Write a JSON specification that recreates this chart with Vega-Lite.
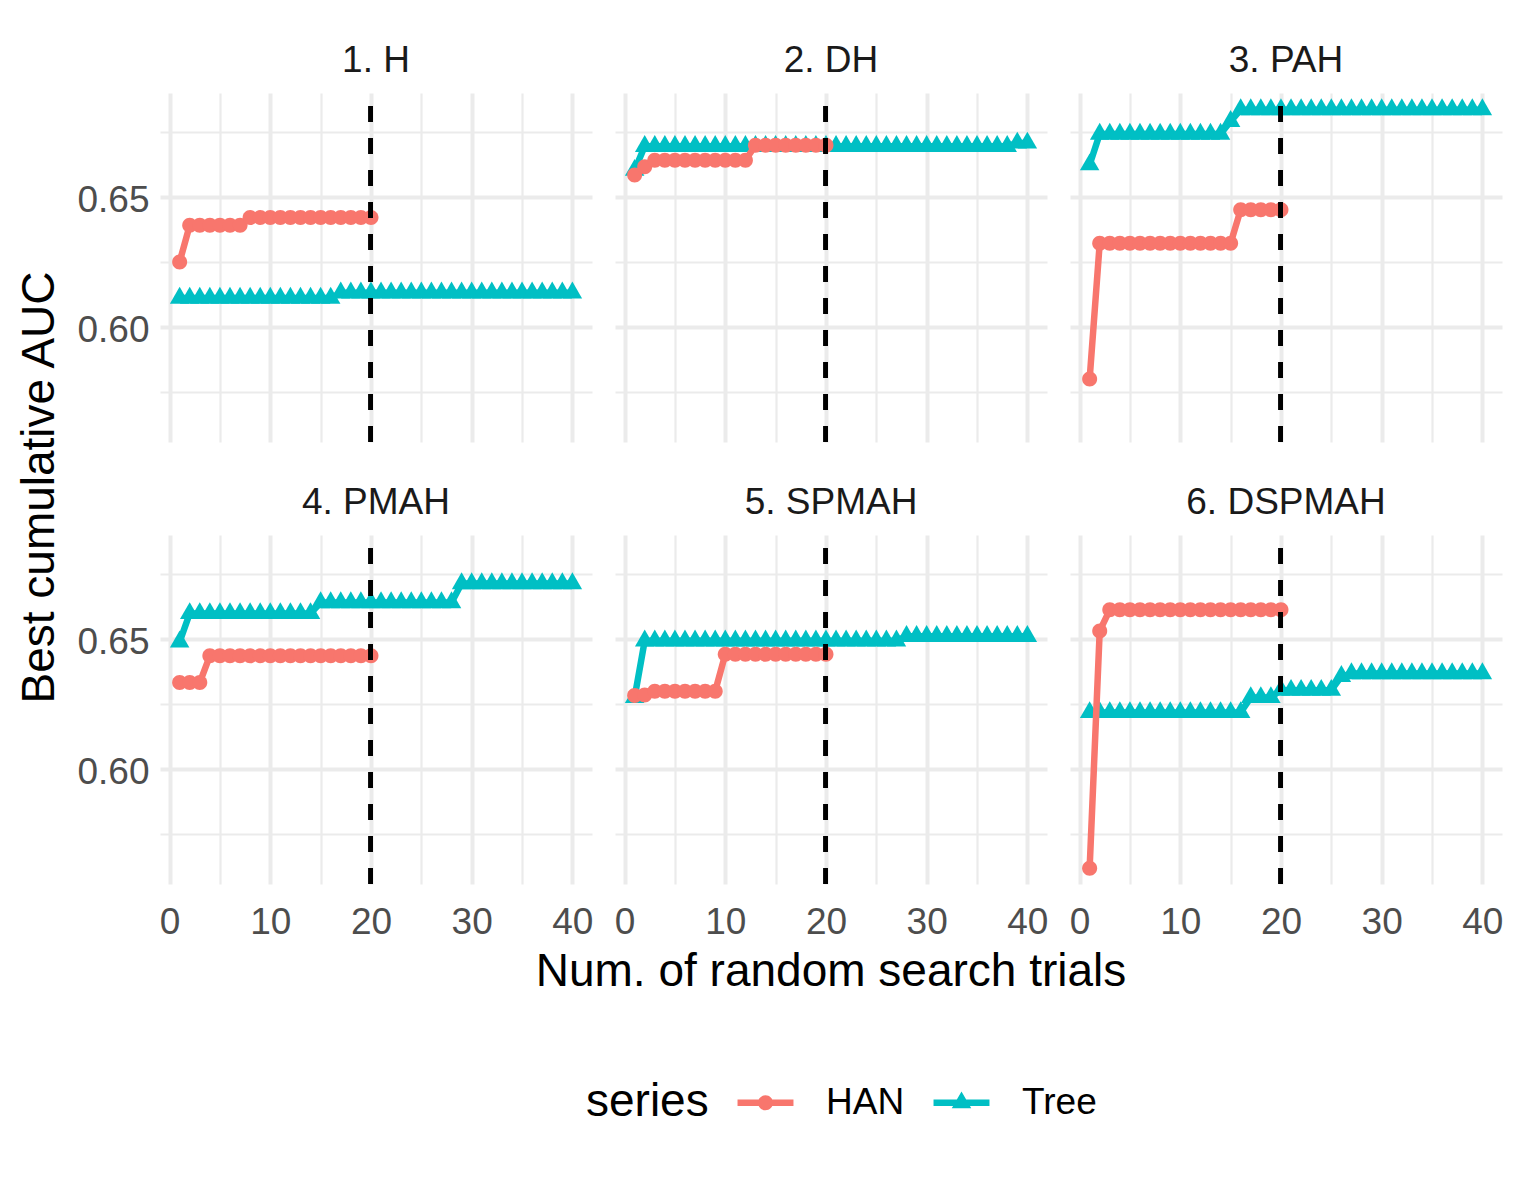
{
  "$schema": "https://vega.github.io/schema/vega-lite/v6.json",
  "padding": {"left": 16, "top": 42, "right": 5, "bottom": 5},
  "background": "white",
  "config": {
    "font": "Liberation Sans",
    "view": {"stroke": null},
    "axis": {"domain": false, "ticks": false, "tickSize": 0, "gridColor": "#EBEBEB", "labelFont": "Liberation Sans", "labelFontSize": 37, "labelColor": "#4D4D4D", "labelOverlap": false, "labelFlush": false},
    "header": {"labelFont": "Liberation Sans", "labelFontSize": 37, "labelColor": "#1A1A1A", "labelBaseline": "alphabetic", "labelPadding": -18},
    "legend": {"direction": "horizontal", "titleOrient": "left", "titleFont": "Liberation Sans", "titleFontSize": 46, "titleFontWeight": "normal", "titleColor": "black", "titlePadding": 38, "labelFont": "Liberation Sans", "labelFontSize": 37, "labelColor": "black", "labelOffset": 42, "columnPadding": 28, "symbolSize": 380, "symbolStrokeWidth": 0, "symbolOpacity": 1}
  },
  "title": {"text": "Best cumulative AUC", "orient": "left", "anchor": "middle", "font": "Liberation Sans", "fontSize": 46, "fontWeight": "normal", "color": "black", "offset": 13, "dx": 96},
  "datasets": {
    "auc": [
      {"panel":"1. H","series":"Tree","trial":1,"auc":0.6112},{"panel":"1. H","series":"Tree","trial":2,"auc":0.6112},{"panel":"1. H","series":"Tree","trial":3,"auc":0.6112},{"panel":"1. H","series":"Tree","trial":4,"auc":0.6112},{"panel":"1. H","series":"Tree","trial":5,"auc":0.6112},{"panel":"1. H","series":"Tree","trial":6,"auc":0.6112},{"panel":"1. H","series":"Tree","trial":7,"auc":0.6112},{"panel":"1. H","series":"Tree","trial":8,"auc":0.6112},{"panel":"1. H","series":"Tree","trial":9,"auc":0.6112},{"panel":"1. H","series":"Tree","trial":10,"auc":0.6112},
      {"panel":"1. H","series":"Tree","trial":11,"auc":0.6112},{"panel":"1. H","series":"Tree","trial":12,"auc":0.6112},{"panel":"1. H","series":"Tree","trial":13,"auc":0.6112},{"panel":"1. H","series":"Tree","trial":14,"auc":0.6112},{"panel":"1. H","series":"Tree","trial":15,"auc":0.6112},{"panel":"1. H","series":"Tree","trial":16,"auc":0.6112},{"panel":"1. H","series":"Tree","trial":17,"auc":0.6132},{"panel":"1. H","series":"Tree","trial":18,"auc":0.6132},{"panel":"1. H","series":"Tree","trial":19,"auc":0.6132},{"panel":"1. H","series":"Tree","trial":20,"auc":0.6132},
      {"panel":"1. H","series":"Tree","trial":21,"auc":0.6132},{"panel":"1. H","series":"Tree","trial":22,"auc":0.6132},{"panel":"1. H","series":"Tree","trial":23,"auc":0.6132},{"panel":"1. H","series":"Tree","trial":24,"auc":0.6132},{"panel":"1. H","series":"Tree","trial":25,"auc":0.6132},{"panel":"1. H","series":"Tree","trial":26,"auc":0.6132},{"panel":"1. H","series":"Tree","trial":27,"auc":0.6132},{"panel":"1. H","series":"Tree","trial":28,"auc":0.6132},{"panel":"1. H","series":"Tree","trial":29,"auc":0.6132},{"panel":"1. H","series":"Tree","trial":30,"auc":0.6132},
      {"panel":"1. H","series":"Tree","trial":31,"auc":0.6132},{"panel":"1. H","series":"Tree","trial":32,"auc":0.6132},{"panel":"1. H","series":"Tree","trial":33,"auc":0.6132},{"panel":"1. H","series":"Tree","trial":34,"auc":0.6132},{"panel":"1. H","series":"Tree","trial":35,"auc":0.6132},{"panel":"1. H","series":"Tree","trial":36,"auc":0.6132},{"panel":"1. H","series":"Tree","trial":37,"auc":0.6132},{"panel":"1. H","series":"Tree","trial":38,"auc":0.6132},{"panel":"1. H","series":"Tree","trial":39,"auc":0.6132},{"panel":"1. H","series":"Tree","trial":40,"auc":0.6132},
      {"panel":"1. H","series":"HAN","trial":1,"auc":0.6251},{"panel":"1. H","series":"HAN","trial":2,"auc":0.6392},{"panel":"1. H","series":"HAN","trial":3,"auc":0.6392},{"panel":"1. H","series":"HAN","trial":4,"auc":0.6392},{"panel":"1. H","series":"HAN","trial":5,"auc":0.6392},{"panel":"1. H","series":"HAN","trial":6,"auc":0.6392},{"panel":"1. H","series":"HAN","trial":7,"auc":0.6392},{"panel":"1. H","series":"HAN","trial":8,"auc":0.6422},{"panel":"1. H","series":"HAN","trial":9,"auc":0.6422},{"panel":"1. H","series":"HAN","trial":10,"auc":0.6422},
      {"panel":"1. H","series":"HAN","trial":11,"auc":0.6422},{"panel":"1. H","series":"HAN","trial":12,"auc":0.6422},{"panel":"1. H","series":"HAN","trial":13,"auc":0.6422},{"panel":"1. H","series":"HAN","trial":14,"auc":0.6422},{"panel":"1. H","series":"HAN","trial":15,"auc":0.6422},{"panel":"1. H","series":"HAN","trial":16,"auc":0.6422},{"panel":"1. H","series":"HAN","trial":17,"auc":0.6422},{"panel":"1. H","series":"HAN","trial":18,"auc":0.6422},{"panel":"1. H","series":"HAN","trial":19,"auc":0.6422},{"panel":"1. H","series":"HAN","trial":20,"auc":0.6422},

      {"panel":"2. DH","series":"Tree","trial":1,"auc":0.6604},{"panel":"2. DH","series":"Tree","trial":2,"auc":0.6696},{"panel":"2. DH","series":"Tree","trial":3,"auc":0.6696},{"panel":"2. DH","series":"Tree","trial":4,"auc":0.6696},{"panel":"2. DH","series":"Tree","trial":5,"auc":0.6696},{"panel":"2. DH","series":"Tree","trial":6,"auc":0.6696},{"panel":"2. DH","series":"Tree","trial":7,"auc":0.6696},{"panel":"2. DH","series":"Tree","trial":8,"auc":0.6696},{"panel":"2. DH","series":"Tree","trial":9,"auc":0.6696},{"panel":"2. DH","series":"Tree","trial":10,"auc":0.6696},
      {"panel":"2. DH","series":"Tree","trial":11,"auc":0.6696},{"panel":"2. DH","series":"Tree","trial":12,"auc":0.6696},{"panel":"2. DH","series":"Tree","trial":13,"auc":0.6696},{"panel":"2. DH","series":"Tree","trial":14,"auc":0.6696},{"panel":"2. DH","series":"Tree","trial":15,"auc":0.6696},{"panel":"2. DH","series":"Tree","trial":16,"auc":0.6696},{"panel":"2. DH","series":"Tree","trial":17,"auc":0.6696},{"panel":"2. DH","series":"Tree","trial":18,"auc":0.6696},{"panel":"2. DH","series":"Tree","trial":19,"auc":0.6696},{"panel":"2. DH","series":"Tree","trial":20,"auc":0.6696},
      {"panel":"2. DH","series":"Tree","trial":21,"auc":0.6696},{"panel":"2. DH","series":"Tree","trial":22,"auc":0.6696},{"panel":"2. DH","series":"Tree","trial":23,"auc":0.6696},{"panel":"2. DH","series":"Tree","trial":24,"auc":0.6696},{"panel":"2. DH","series":"Tree","trial":25,"auc":0.6696},{"panel":"2. DH","series":"Tree","trial":26,"auc":0.6696},{"panel":"2. DH","series":"Tree","trial":27,"auc":0.6696},{"panel":"2. DH","series":"Tree","trial":28,"auc":0.6696},{"panel":"2. DH","series":"Tree","trial":29,"auc":0.6696},{"panel":"2. DH","series":"Tree","trial":30,"auc":0.6696},
      {"panel":"2. DH","series":"Tree","trial":31,"auc":0.6696},{"panel":"2. DH","series":"Tree","trial":32,"auc":0.6696},{"panel":"2. DH","series":"Tree","trial":33,"auc":0.6696},{"panel":"2. DH","series":"Tree","trial":34,"auc":0.6696},{"panel":"2. DH","series":"Tree","trial":35,"auc":0.6696},{"panel":"2. DH","series":"Tree","trial":36,"auc":0.6696},{"panel":"2. DH","series":"Tree","trial":37,"auc":0.6696},{"panel":"2. DH","series":"Tree","trial":38,"auc":0.6696},{"panel":"2. DH","series":"Tree","trial":39,"auc":0.6709},{"panel":"2. DH","series":"Tree","trial":40,"auc":0.6709},
      {"panel":"2. DH","series":"HAN","trial":1,"auc":0.6585},{"panel":"2. DH","series":"HAN","trial":2,"auc":0.6617},{"panel":"2. DH","series":"HAN","trial":3,"auc":0.6642},{"panel":"2. DH","series":"HAN","trial":4,"auc":0.6642},{"panel":"2. DH","series":"HAN","trial":5,"auc":0.6642},{"panel":"2. DH","series":"HAN","trial":6,"auc":0.6642},{"panel":"2. DH","series":"HAN","trial":7,"auc":0.6642},{"panel":"2. DH","series":"HAN","trial":8,"auc":0.6642},{"panel":"2. DH","series":"HAN","trial":9,"auc":0.6642},{"panel":"2. DH","series":"HAN","trial":10,"auc":0.6642},
      {"panel":"2. DH","series":"HAN","trial":11,"auc":0.6642},{"panel":"2. DH","series":"HAN","trial":12,"auc":0.6642},{"panel":"2. DH","series":"HAN","trial":13,"auc":0.6700},{"panel":"2. DH","series":"HAN","trial":14,"auc":0.6700},{"panel":"2. DH","series":"HAN","trial":15,"auc":0.6700},{"panel":"2. DH","series":"HAN","trial":16,"auc":0.6700},{"panel":"2. DH","series":"HAN","trial":17,"auc":0.6700},{"panel":"2. DH","series":"HAN","trial":18,"auc":0.6700},{"panel":"2. DH","series":"HAN","trial":19,"auc":0.6700},{"panel":"2. DH","series":"HAN","trial":20,"auc":0.6700},

      {"panel":"3. PAH","series":"Tree","trial":1,"auc":0.6625},{"panel":"3. PAH","series":"Tree","trial":2,"auc":0.6743},{"panel":"3. PAH","series":"Tree","trial":3,"auc":0.6743},{"panel":"3. PAH","series":"Tree","trial":4,"auc":0.6743},{"panel":"3. PAH","series":"Tree","trial":5,"auc":0.6743},{"panel":"3. PAH","series":"Tree","trial":6,"auc":0.6743},{"panel":"3. PAH","series":"Tree","trial":7,"auc":0.6743},{"panel":"3. PAH","series":"Tree","trial":8,"auc":0.6743},{"panel":"3. PAH","series":"Tree","trial":9,"auc":0.6743},{"panel":"3. PAH","series":"Tree","trial":10,"auc":0.6743},
      {"panel":"3. PAH","series":"Tree","trial":11,"auc":0.6743},{"panel":"3. PAH","series":"Tree","trial":12,"auc":0.6743},{"panel":"3. PAH","series":"Tree","trial":13,"auc":0.6743},{"panel":"3. PAH","series":"Tree","trial":14,"auc":0.6743},{"panel":"3. PAH","series":"Tree","trial":15,"auc":0.6792},{"panel":"3. PAH","series":"Tree","trial":16,"auc":0.6837},{"panel":"3. PAH","series":"Tree","trial":17,"auc":0.6837},{"panel":"3. PAH","series":"Tree","trial":18,"auc":0.6837},{"panel":"3. PAH","series":"Tree","trial":19,"auc":0.6837},{"panel":"3. PAH","series":"Tree","trial":20,"auc":0.6837},
      {"panel":"3. PAH","series":"Tree","trial":21,"auc":0.6837},{"panel":"3. PAH","series":"Tree","trial":22,"auc":0.6837},{"panel":"3. PAH","series":"Tree","trial":23,"auc":0.6837},{"panel":"3. PAH","series":"Tree","trial":24,"auc":0.6837},{"panel":"3. PAH","series":"Tree","trial":25,"auc":0.6837},{"panel":"3. PAH","series":"Tree","trial":26,"auc":0.6837},{"panel":"3. PAH","series":"Tree","trial":27,"auc":0.6837},{"panel":"3. PAH","series":"Tree","trial":28,"auc":0.6837},{"panel":"3. PAH","series":"Tree","trial":29,"auc":0.6837},{"panel":"3. PAH","series":"Tree","trial":30,"auc":0.6837},
      {"panel":"3. PAH","series":"Tree","trial":31,"auc":0.6837},{"panel":"3. PAH","series":"Tree","trial":32,"auc":0.6837},{"panel":"3. PAH","series":"Tree","trial":33,"auc":0.6837},{"panel":"3. PAH","series":"Tree","trial":34,"auc":0.6837},{"panel":"3. PAH","series":"Tree","trial":35,"auc":0.6837},{"panel":"3. PAH","series":"Tree","trial":36,"auc":0.6837},{"panel":"3. PAH","series":"Tree","trial":37,"auc":0.6837},{"panel":"3. PAH","series":"Tree","trial":38,"auc":0.6837},{"panel":"3. PAH","series":"Tree","trial":39,"auc":0.6837},{"panel":"3. PAH","series":"Tree","trial":40,"auc":0.6837},
      {"panel":"3. PAH","series":"HAN","trial":1,"auc":0.5800},{"panel":"3. PAH","series":"HAN","trial":2,"auc":0.6323},{"panel":"3. PAH","series":"HAN","trial":3,"auc":0.6323},{"panel":"3. PAH","series":"HAN","trial":4,"auc":0.6323},{"panel":"3. PAH","series":"HAN","trial":5,"auc":0.6323},{"panel":"3. PAH","series":"HAN","trial":6,"auc":0.6323},{"panel":"3. PAH","series":"HAN","trial":7,"auc":0.6323},{"panel":"3. PAH","series":"HAN","trial":8,"auc":0.6323},{"panel":"3. PAH","series":"HAN","trial":9,"auc":0.6323},{"panel":"3. PAH","series":"HAN","trial":10,"auc":0.6323},
      {"panel":"3. PAH","series":"HAN","trial":11,"auc":0.6323},{"panel":"3. PAH","series":"HAN","trial":12,"auc":0.6323},{"panel":"3. PAH","series":"HAN","trial":13,"auc":0.6323},{"panel":"3. PAH","series":"HAN","trial":14,"auc":0.6323},{"panel":"3. PAH","series":"HAN","trial":15,"auc":0.6323},{"panel":"3. PAH","series":"HAN","trial":16,"auc":0.6452},{"panel":"3. PAH","series":"HAN","trial":17,"auc":0.6452},{"panel":"3. PAH","series":"HAN","trial":18,"auc":0.6452},{"panel":"3. PAH","series":"HAN","trial":19,"auc":0.6452},{"panel":"3. PAH","series":"HAN","trial":20,"auc":0.6452},

      {"panel":"4. PMAH","series":"Tree","trial":1,"auc":0.6490},{"panel":"4. PMAH","series":"Tree","trial":2,"auc":0.6599},{"panel":"4. PMAH","series":"Tree","trial":3,"auc":0.6599},{"panel":"4. PMAH","series":"Tree","trial":4,"auc":0.6599},{"panel":"4. PMAH","series":"Tree","trial":5,"auc":0.6599},{"panel":"4. PMAH","series":"Tree","trial":6,"auc":0.6599},{"panel":"4. PMAH","series":"Tree","trial":7,"auc":0.6599},{"panel":"4. PMAH","series":"Tree","trial":8,"auc":0.6599},{"panel":"4. PMAH","series":"Tree","trial":9,"auc":0.6599},{"panel":"4. PMAH","series":"Tree","trial":10,"auc":0.6599},
      {"panel":"4. PMAH","series":"Tree","trial":11,"auc":0.6599},{"panel":"4. PMAH","series":"Tree","trial":12,"auc":0.6599},{"panel":"4. PMAH","series":"Tree","trial":13,"auc":0.6599},{"panel":"4. PMAH","series":"Tree","trial":14,"auc":0.6599},{"panel":"4. PMAH","series":"Tree","trial":15,"auc":0.6641},{"panel":"4. PMAH","series":"Tree","trial":16,"auc":0.6641},{"panel":"4. PMAH","series":"Tree","trial":17,"auc":0.6641},{"panel":"4. PMAH","series":"Tree","trial":18,"auc":0.6641},{"panel":"4. PMAH","series":"Tree","trial":19,"auc":0.6641},{"panel":"4. PMAH","series":"Tree","trial":20,"auc":0.6641},
      {"panel":"4. PMAH","series":"Tree","trial":21,"auc":0.6641},{"panel":"4. PMAH","series":"Tree","trial":22,"auc":0.6641},{"panel":"4. PMAH","series":"Tree","trial":23,"auc":0.6641},{"panel":"4. PMAH","series":"Tree","trial":24,"auc":0.6641},{"panel":"4. PMAH","series":"Tree","trial":25,"auc":0.6641},{"panel":"4. PMAH","series":"Tree","trial":26,"auc":0.6641},{"panel":"4. PMAH","series":"Tree","trial":27,"auc":0.6641},{"panel":"4. PMAH","series":"Tree","trial":28,"auc":0.6641},{"panel":"4. PMAH","series":"Tree","trial":29,"auc":0.6714},{"panel":"4. PMAH","series":"Tree","trial":30,"auc":0.6714},
      {"panel":"4. PMAH","series":"Tree","trial":31,"auc":0.6714},{"panel":"4. PMAH","series":"Tree","trial":32,"auc":0.6714},{"panel":"4. PMAH","series":"Tree","trial":33,"auc":0.6714},{"panel":"4. PMAH","series":"Tree","trial":34,"auc":0.6714},{"panel":"4. PMAH","series":"Tree","trial":35,"auc":0.6714},{"panel":"4. PMAH","series":"Tree","trial":36,"auc":0.6714},{"panel":"4. PMAH","series":"Tree","trial":37,"auc":0.6714},{"panel":"4. PMAH","series":"Tree","trial":38,"auc":0.6714},{"panel":"4. PMAH","series":"Tree","trial":39,"auc":0.6714},{"panel":"4. PMAH","series":"Tree","trial":40,"auc":0.6714},
      {"panel":"4. PMAH","series":"HAN","trial":1,"auc":0.6333},{"panel":"4. PMAH","series":"HAN","trial":2,"auc":0.6333},{"panel":"4. PMAH","series":"HAN","trial":3,"auc":0.6333},{"panel":"4. PMAH","series":"HAN","trial":4,"auc":0.6436},{"panel":"4. PMAH","series":"HAN","trial":5,"auc":0.6436},{"panel":"4. PMAH","series":"HAN","trial":6,"auc":0.6436},{"panel":"4. PMAH","series":"HAN","trial":7,"auc":0.6436},{"panel":"4. PMAH","series":"HAN","trial":8,"auc":0.6436},{"panel":"4. PMAH","series":"HAN","trial":9,"auc":0.6436},{"panel":"4. PMAH","series":"HAN","trial":10,"auc":0.6436},
      {"panel":"4. PMAH","series":"HAN","trial":11,"auc":0.6436},{"panel":"4. PMAH","series":"HAN","trial":12,"auc":0.6436},{"panel":"4. PMAH","series":"HAN","trial":13,"auc":0.6436},{"panel":"4. PMAH","series":"HAN","trial":14,"auc":0.6436},{"panel":"4. PMAH","series":"HAN","trial":15,"auc":0.6436},{"panel":"4. PMAH","series":"HAN","trial":16,"auc":0.6436},{"panel":"4. PMAH","series":"HAN","trial":17,"auc":0.6436},{"panel":"4. PMAH","series":"HAN","trial":18,"auc":0.6436},{"panel":"4. PMAH","series":"HAN","trial":19,"auc":0.6436},{"panel":"4. PMAH","series":"HAN","trial":20,"auc":0.6436},

      {"panel":"5. SPMAH","series":"Tree","trial":1,"auc":0.6276},{"panel":"5. SPMAH","series":"Tree","trial":2,"auc":0.6494},{"panel":"5. SPMAH","series":"Tree","trial":3,"auc":0.6494},{"panel":"5. SPMAH","series":"Tree","trial":4,"auc":0.6494},{"panel":"5. SPMAH","series":"Tree","trial":5,"auc":0.6494},{"panel":"5. SPMAH","series":"Tree","trial":6,"auc":0.6494},{"panel":"5. SPMAH","series":"Tree","trial":7,"auc":0.6494},{"panel":"5. SPMAH","series":"Tree","trial":8,"auc":0.6494},{"panel":"5. SPMAH","series":"Tree","trial":9,"auc":0.6494},{"panel":"5. SPMAH","series":"Tree","trial":10,"auc":0.6494},
      {"panel":"5. SPMAH","series":"Tree","trial":11,"auc":0.6494},{"panel":"5. SPMAH","series":"Tree","trial":12,"auc":0.6494},{"panel":"5. SPMAH","series":"Tree","trial":13,"auc":0.6494},{"panel":"5. SPMAH","series":"Tree","trial":14,"auc":0.6494},{"panel":"5. SPMAH","series":"Tree","trial":15,"auc":0.6494},{"panel":"5. SPMAH","series":"Tree","trial":16,"auc":0.6494},{"panel":"5. SPMAH","series":"Tree","trial":17,"auc":0.6494},{"panel":"5. SPMAH","series":"Tree","trial":18,"auc":0.6494},{"panel":"5. SPMAH","series":"Tree","trial":19,"auc":0.6494},{"panel":"5. SPMAH","series":"Tree","trial":20,"auc":0.6494},
      {"panel":"5. SPMAH","series":"Tree","trial":21,"auc":0.6494},{"panel":"5. SPMAH","series":"Tree","trial":22,"auc":0.6494},{"panel":"5. SPMAH","series":"Tree","trial":23,"auc":0.6494},{"panel":"5. SPMAH","series":"Tree","trial":24,"auc":0.6494},{"panel":"5. SPMAH","series":"Tree","trial":25,"auc":0.6494},{"panel":"5. SPMAH","series":"Tree","trial":26,"auc":0.6494},{"panel":"5. SPMAH","series":"Tree","trial":27,"auc":0.6494},{"panel":"5. SPMAH","series":"Tree","trial":28,"auc":0.6511},{"panel":"5. SPMAH","series":"Tree","trial":29,"auc":0.6511},{"panel":"5. SPMAH","series":"Tree","trial":30,"auc":0.6511},
      {"panel":"5. SPMAH","series":"Tree","trial":31,"auc":0.6511},{"panel":"5. SPMAH","series":"Tree","trial":32,"auc":0.6511},{"panel":"5. SPMAH","series":"Tree","trial":33,"auc":0.6511},{"panel":"5. SPMAH","series":"Tree","trial":34,"auc":0.6511},{"panel":"5. SPMAH","series":"Tree","trial":35,"auc":0.6511},{"panel":"5. SPMAH","series":"Tree","trial":36,"auc":0.6511},{"panel":"5. SPMAH","series":"Tree","trial":37,"auc":0.6511},{"panel":"5. SPMAH","series":"Tree","trial":38,"auc":0.6511},{"panel":"5. SPMAH","series":"Tree","trial":39,"auc":0.6511},{"panel":"5. SPMAH","series":"Tree","trial":40,"auc":0.6511},
      {"panel":"5. SPMAH","series":"HAN","trial":1,"auc":0.6283},{"panel":"5. SPMAH","series":"HAN","trial":2,"auc":0.6285},{"panel":"5. SPMAH","series":"HAN","trial":3,"auc":0.6300},{"panel":"5. SPMAH","series":"HAN","trial":4,"auc":0.6300},{"panel":"5. SPMAH","series":"HAN","trial":5,"auc":0.6300},{"panel":"5. SPMAH","series":"HAN","trial":6,"auc":0.6300},{"panel":"5. SPMAH","series":"HAN","trial":7,"auc":0.6300},{"panel":"5. SPMAH","series":"HAN","trial":8,"auc":0.6300},{"panel":"5. SPMAH","series":"HAN","trial":9,"auc":0.6300},{"panel":"5. SPMAH","series":"HAN","trial":10,"auc":0.6442},
      {"panel":"5. SPMAH","series":"HAN","trial":11,"auc":0.6442},{"panel":"5. SPMAH","series":"HAN","trial":12,"auc":0.6442},{"panel":"5. SPMAH","series":"HAN","trial":13,"auc":0.6442},{"panel":"5. SPMAH","series":"HAN","trial":14,"auc":0.6442},{"panel":"5. SPMAH","series":"HAN","trial":15,"auc":0.6442},{"panel":"5. SPMAH","series":"HAN","trial":16,"auc":0.6442},{"panel":"5. SPMAH","series":"HAN","trial":17,"auc":0.6442},{"panel":"5. SPMAH","series":"HAN","trial":18,"auc":0.6442},{"panel":"5. SPMAH","series":"HAN","trial":19,"auc":0.6442},{"panel":"5. SPMAH","series":"HAN","trial":20,"auc":0.6442},

      {"panel":"6. DSPMAH","series":"Tree","trial":1,"auc":0.6218},{"panel":"6. DSPMAH","series":"Tree","trial":2,"auc":0.6218},{"panel":"6. DSPMAH","series":"Tree","trial":3,"auc":0.6218},{"panel":"6. DSPMAH","series":"Tree","trial":4,"auc":0.6218},{"panel":"6. DSPMAH","series":"Tree","trial":5,"auc":0.6218},{"panel":"6. DSPMAH","series":"Tree","trial":6,"auc":0.6218},{"panel":"6. DSPMAH","series":"Tree","trial":7,"auc":0.6218},{"panel":"6. DSPMAH","series":"Tree","trial":8,"auc":0.6218},{"panel":"6. DSPMAH","series":"Tree","trial":9,"auc":0.6218},{"panel":"6. DSPMAH","series":"Tree","trial":10,"auc":0.6218},
      {"panel":"6. DSPMAH","series":"Tree","trial":11,"auc":0.6218},{"panel":"6. DSPMAH","series":"Tree","trial":12,"auc":0.6218},{"panel":"6. DSPMAH","series":"Tree","trial":13,"auc":0.6218},{"panel":"6. DSPMAH","series":"Tree","trial":14,"auc":0.6218},{"panel":"6. DSPMAH","series":"Tree","trial":15,"auc":0.6218},{"panel":"6. DSPMAH","series":"Tree","trial":16,"auc":0.6218},{"panel":"6. DSPMAH","series":"Tree","trial":17,"auc":0.6276},{"panel":"6. DSPMAH","series":"Tree","trial":18,"auc":0.6276},{"panel":"6. DSPMAH","series":"Tree","trial":19,"auc":0.6276},{"panel":"6. DSPMAH","series":"Tree","trial":20,"auc":0.6304},
      {"panel":"6. DSPMAH","series":"Tree","trial":21,"auc":0.6304},{"panel":"6. DSPMAH","series":"Tree","trial":22,"auc":0.6304},{"panel":"6. DSPMAH","series":"Tree","trial":23,"auc":0.6304},{"panel":"6. DSPMAH","series":"Tree","trial":24,"auc":0.6304},{"panel":"6. DSPMAH","series":"Tree","trial":25,"auc":0.6304},{"panel":"6. DSPMAH","series":"Tree","trial":26,"auc":0.6357},{"panel":"6. DSPMAH","series":"Tree","trial":27,"auc":0.6368},{"panel":"6. DSPMAH","series":"Tree","trial":28,"auc":0.6368},{"panel":"6. DSPMAH","series":"Tree","trial":29,"auc":0.6368},{"panel":"6. DSPMAH","series":"Tree","trial":30,"auc":0.6368},
      {"panel":"6. DSPMAH","series":"Tree","trial":31,"auc":0.6368},{"panel":"6. DSPMAH","series":"Tree","trial":32,"auc":0.6368},{"panel":"6. DSPMAH","series":"Tree","trial":33,"auc":0.6368},{"panel":"6. DSPMAH","series":"Tree","trial":34,"auc":0.6368},{"panel":"6. DSPMAH","series":"Tree","trial":35,"auc":0.6368},{"panel":"6. DSPMAH","series":"Tree","trial":36,"auc":0.6368},{"panel":"6. DSPMAH","series":"Tree","trial":37,"auc":0.6368},{"panel":"6. DSPMAH","series":"Tree","trial":38,"auc":0.6368},{"panel":"6. DSPMAH","series":"Tree","trial":39,"auc":0.6368},{"panel":"6. DSPMAH","series":"Tree","trial":40,"auc":0.6368},
      {"panel":"6. DSPMAH","series":"HAN","trial":1,"auc":0.5619},{"panel":"6. DSPMAH","series":"HAN","trial":2,"auc":0.6532},{"panel":"6. DSPMAH","series":"HAN","trial":3,"auc":0.6613},{"panel":"6. DSPMAH","series":"HAN","trial":4,"auc":0.6613},{"panel":"6. DSPMAH","series":"HAN","trial":5,"auc":0.6613},{"panel":"6. DSPMAH","series":"HAN","trial":6,"auc":0.6613},{"panel":"6. DSPMAH","series":"HAN","trial":7,"auc":0.6613},{"panel":"6. DSPMAH","series":"HAN","trial":8,"auc":0.6613},{"panel":"6. DSPMAH","series":"HAN","trial":9,"auc":0.6613},{"panel":"6. DSPMAH","series":"HAN","trial":10,"auc":0.6613},
      {"panel":"6. DSPMAH","series":"HAN","trial":11,"auc":0.6613},{"panel":"6. DSPMAH","series":"HAN","trial":12,"auc":0.6613},{"panel":"6. DSPMAH","series":"HAN","trial":13,"auc":0.6613},{"panel":"6. DSPMAH","series":"HAN","trial":14,"auc":0.6613},{"panel":"6. DSPMAH","series":"HAN","trial":15,"auc":0.6613},{"panel":"6. DSPMAH","series":"HAN","trial":16,"auc":0.6613},{"panel":"6. DSPMAH","series":"HAN","trial":17,"auc":0.6613},{"panel":"6. DSPMAH","series":"HAN","trial":18,"auc":0.6613},{"panel":"6. DSPMAH","series":"HAN","trial":19,"auc":0.6613},{"panel":"6. DSPMAH","series":"HAN","trial":20,"auc":0.6613}
    ]
  },
  "data": {"name": "auc"},
  "spacing": 40,
  "vconcat": [
    {
      "transform": [{"filter": {"field": "panel", "oneOf": ["1. H", "2. DH", "3. PAH"]}}],
      "facet": {"column": {"field": "panel", "type": "nominal", "title": null}},
      "spacing": {"column": 23},
      "spec": {
        "width": 432,
        "height": 349,
        "encoding": {
          "x": {"field": "trial", "type": "quantitative", "scale": {"domain": [-0.95, 41.95], "nice": false, "zero": false},
                "axis": {"title": null, "values": [0, 5, 10, 15, 20, 25, 30, 35, 40], "labels": false, "gridWidth": {"condition": {"test": "datum.value % 10 === 0", "value": 4}, "value": 2.2}}},
          "y": {"field": "auc", "type": "quantitative", "scale": {"domain": [0.5558, 0.6901], "nice": false, "zero": false},
                "axis": {"title": null, "values": [0.575, 0.6, 0.625, 0.65, 0.675], "labelPadding": 11, "labelOffset": 3,
                         "labelExpr": "round(datum.value * 1000) % 50 === 0 ? format(datum.value, '.2f') : ''",
                         "gridWidth": {"condition": {"test": "round(datum.value * 1000) % 50 === 0", "value": 4}, "value": 2.2}}}
        },
        "layer": [
          {"transform": [{"filter": "datum.series === 'Tree'"}], "mark": {"type": "line", "color": "#00BFC4", "strokeWidth": 6.5, "strokeJoin": "round"}},
          {"transform": [{"filter": "datum.series === 'Tree'"}], "mark": {"type": "point", "shape": "M0,-1.155L1,0.577L-1,0.577Z", "filled": true, "opacity": 1, "size": 380, "strokeWidth": 0},
           "encoding": {
             "color": {"field": "series", "type": "nominal", "scale": {"domain": ["HAN", "Tree"], "range": ["#F8766D", "#00BFC4"]},
                       "legend": {"title": "series", "orient": "none", "legendX": 426, "legendY": 991, "symbolSize": 380,
                                  "encode": {"symbols": {"update": {"size": {"value": 380}, "opacity": {"value": 1}, "strokeWidth": {"value": 0},
                                                                    "shape": {"signal": "datum.value === 'HAN' ? 'M-2.87,-0.34H2.87V0.34H-2.87Z M0.77,0A0.77,0.77 0 1,1 -0.77,0A0.77,0.77 0 1,1 0.77,0Z' : 'M-2.87,-0.34H2.87V0.34H-2.87Z M0,-1.155L1,0.577L-1,0.577Z'"}}}}}}
           }},
          {"transform": [{"filter": "datum.series === 'HAN'"}], "mark": {"type": "line", "color": "#F8766D", "strokeWidth": 6.5, "strokeJoin": "round"}},
          {"transform": [{"filter": "datum.series === 'HAN'"}], "mark": {"type": "point", "shape": "M0.77,0A0.77,0.77 0 1,1 -0.77,0A0.77,0.77 0 1,1 0.77,0Z", "filled": true, "opacity": 1, "size": 380, "strokeWidth": 0},
           "encoding": {"color": {"field": "series", "type": "nominal"}}},
          {"mark": {"type": "rule", "color": "black", "strokeWidth": 4, "strokeDash": [16, 16]},
           "encoding": {"x": {"datum": 20}, "y": {"datum": 0.5558}, "y2": {"datum": 0.6901}}}
        ]
      }
    },
    {
      "transform": [{"filter": {"field": "panel", "oneOf": ["4. PMAH", "5. SPMAH", "6. DSPMAH"]}}],
      "facet": {"column": {"field": "panel", "type": "nominal", "title": "Num. of random search trials",
                           "header": {"titleOrient": "bottom", "titleFont": "Liberation Sans", "titleFontSize": 46, "titleFontWeight": "normal", "titleColor": "black", "titlePadding": 0}}},
      "spacing": {"column": 23},
      "spec": {
        "width": 432,
        "height": 349,
        "encoding": {
          "x": {"field": "trial", "type": "quantitative", "scale": {"domain": [-0.95, 41.95], "nice": false, "zero": false},
                "axis": {"title": null, "values": [0, 5, 10, 15, 20, 25, 30, 35, 40], "labelPadding": 18,
                         "labelExpr": "datum.value % 10 === 0 ? datum.label : ''",
                         "gridWidth": {"condition": {"test": "datum.value % 10 === 0", "value": 4}, "value": 2.2}}},
          "y": {"field": "auc", "type": "quantitative", "scale": {"domain": [0.5558, 0.6901], "nice": false, "zero": false},
                "axis": {"title": null, "values": [0.575, 0.6, 0.625, 0.65, 0.675], "labelPadding": 11, "labelOffset": 3,
                         "labelExpr": "round(datum.value * 1000) % 50 === 0 ? format(datum.value, '.2f') : ''",
                         "gridWidth": {"condition": {"test": "round(datum.value * 1000) % 50 === 0", "value": 4}, "value": 2.2}}}
        },
        "layer": [
          {"transform": [{"filter": "datum.series === 'Tree'"}], "mark": {"type": "line", "color": "#00BFC4", "strokeWidth": 6.5, "strokeJoin": "round"}},
          {"transform": [{"filter": "datum.series === 'Tree'"}], "mark": {"type": "point", "shape": "M0,-1.155L1,0.577L-1,0.577Z", "filled": true, "opacity": 1, "size": 380, "strokeWidth": 0},
           "encoding": {"color": {"field": "series", "type": "nominal"}}},
          {"transform": [{"filter": "datum.series === 'HAN'"}], "mark": {"type": "line", "color": "#F8766D", "strokeWidth": 6.5, "strokeJoin": "round"}},
          {"transform": [{"filter": "datum.series === 'HAN'"}], "mark": {"type": "point", "shape": "M0.77,0A0.77,0.77 0 1,1 -0.77,0A0.77,0.77 0 1,1 0.77,0Z", "filled": true, "opacity": 1, "size": 380, "strokeWidth": 0},
           "encoding": {"color": {"field": "series", "type": "nominal"}}},
          {"mark": {"type": "rule", "color": "black", "strokeWidth": 4, "strokeDash": [16, 16]},
           "encoding": {"x": {"datum": 20}, "y": {"datum": 0.5558}, "y2": {"datum": 0.6901}}}
        ]
      }
    }
  ]
}
